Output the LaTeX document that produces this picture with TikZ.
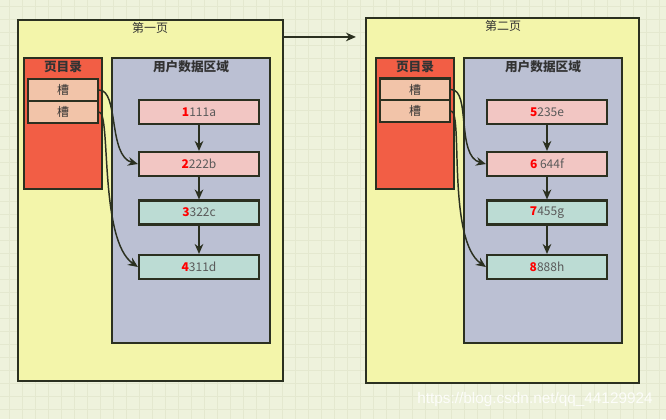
\documentclass[tikz,border=0pt]{standalone}
\usepackage{fontspec}
\setmainfont{Noto Sans CJK SC}
\newfontfamily\wmfont{Liberation Sans}
\usetikzlibrary{arrows.meta,positioning,calc}
\usepackage{xcolor}
\definecolor{fondo}{HTML}{EEF2DC}
\definecolor{rejilla}{HTML}{E4E8CF}
\definecolor{amarillo}{HTML}{F3F5AA}
\definecolor{borde}{HTML}{2B3020}
\definecolor{rojo}{HTML}{F25E45}
\definecolor{melocoton}{HTML}{F2C4A9}
\definecolor{lila}{HTML}{BBC0D3}
\definecolor{rosa}{HTML}{F2C6C3}
\definecolor{verde}{HTML}{BCDCD4}
\definecolor{gris}{HTML}{5A5A5A}
\definecolor{texto}{HTML}{333333}
\newcommand\nreg[1]{\textcolor{red}{\textbf{#1}}}

\begin{document}
\begin{tikzpicture}[
  x=0.75pt, y=-0.75pt,
  font=\fontsize{9}{11}\selectfont,
  pagina/.style={rectangle, draw=borde, line width=1.6pt, fill=amarillo},
  directorio/.style={rectangle, draw=borde, line width=1.6pt, fill=rojo, minimum width=58.5pt, minimum height=98.25pt},
  usuario/.style={rectangle, draw=borde, line width=1.6pt, fill=lila, minimum width=118.5pt, minimum height=213.75pt},
  ranura/.style={rectangle, draw=borde, line width=1.6pt, fill=melocoton, minimum width=52.5pt, minimum height=16.5pt, inner sep=0pt, text=texto},
  registro/.style={rectangle, draw=borde, line width=1.6pt, minimum width=90pt, minimum height=18pt, inner sep=0pt, text=gris},
  regrosa/.style={registro, fill=rosa},
  regverde/.style={registro, fill=verde},
  titulo/.style={font=\fontsize{9.5}{11}\selectfont\bfseries, text=texto},
  flecha/.style={-{Stealth[length=7.5pt,width=6.5pt]}, line width=1.1pt, draw=borde}
]
\useasboundingbox (0,0) rectangle (666,419);
\fill[fondo] (0,0) rectangle (666,419);
\foreach \gx in {9,22,...,666} \draw[rejilla, line width=0.5pt] (\gx,0) -- (\gx,419);
\foreach \gy in {6,19,...,419} \draw[rejilla, line width=0.5pt] (0,\gy) -- (666,\gy);

% primera pagina
\node[pagina, minimum width=198.75pt, minimum height=270.75pt] (pag1) at (150.5,200.5) {};
\node[text=texto] (tit1) at (150,28) {第一页};
\node[directorio] (dir1) at (63,123.5) {};
\node[titulo] (tdir1) at (63,67) {页目录};
\node[ranura] (s11) at (63,90) {槽};
\node[ranura] (s12) at (63,112) {槽};
\node[usuario] (usr1) at (191,200.5) {};
\node[titulo] (tusr1) at (191,67) {用户数据区域};
\node[regrosa] (r1) at (199,112) {\nreg{1}111a};
\node[regrosa] (r2) at (199,164) {\nreg{2}222b};
\node[regverde] (r3) at (199,212.5) {\nreg{3}322c};
\node[regverde] (r4) at (199,267) {\nreg{4}311d};
\draw[flecha] (r1) -- (r2);
\draw[flecha] (r2) -- (r3);
\draw[flecha] (r3) -- (r4);
\draw[flecha] (s11.east) .. controls +(20,0) and +(-30,-8) .. (r2.west);
\draw[flecha] (s12.east) .. controls +(12,0) and +(-39,-27) .. (r4.west);

% segunda pagina
\node[pagina, minimum width=204.75pt, minimum height=273.75pt] (pag2) at (502.5,200.5) {};
\node[text=texto] (tit2) at (503,26) {第二页};
\node[directorio] (dir2) at (415,123.5) {};
\node[titulo] (tdir2) at (415,67) {页目录};
\node[ranura] (s21) at (415,89.5) {槽};
\node[ranura] (s22) at (415,111) {槽};
\node[usuario] (usr2) at (543,200.5) {};
\node[titulo] (tusr2) at (543,67) {用户数据区域};
\node[regrosa] (r5) at (547,112) {\nreg{5}235e};
\node[regrosa] (r6) at (547,164) {\nreg{6} 644f};
\node[regverde] (r7) at (547,212.5) {\nreg{7}455g};
\node[regverde] (r8) at (547,267) {\nreg{8}888h};
\draw[flecha] (r5) -- (r6);
\draw[flecha] (r6) -- (r7);
\draw[flecha] (r7) -- (r8);
\draw[flecha] (s21.east) .. controls +(20,0) and +(-30,-8) .. (r6.west);
\draw[flecha] (s22.east) .. controls +(12,0) and +(-39,-27) .. (r8.west);

% enlace entre paginas
\draw[flecha] ($(pag1.north east)+(0,18)$) -- ($(pag2.north west)+(-9,20)$);

\node[font=\wmfont\fontsize{11.5}{12}\selectfont, text=white, opacity=0.85] (marca) at (535,400) {https://blog.csdn.net/qq\_44129924};
\end{tikzpicture}
\end{document}
